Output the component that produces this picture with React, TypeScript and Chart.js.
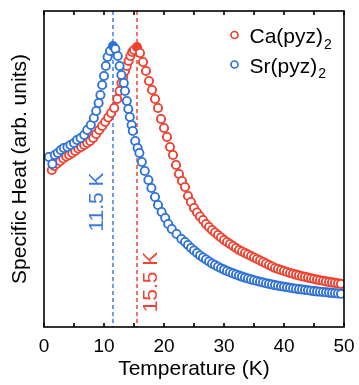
import { useEffect, useRef } from 'react';
import { Chart, registerables } from 'chart.js';
Chart.register(...registerables);

// Temperature (K) and specific heat (arb. units)
const srT = [0.8, 1.4, 1.8, 2.3, 2.8, 3.3, 3.9, 4.4, 5.0, 5.5, 6.1, 6.7, 7.2, 7.8, 8.3, 8.7, 9.1, 9.4, 9.7, 10.0, 10.3, 10.6, 11.0, 11.5,
  11.9, 12.3, 12.6, 12.9, 13.3, 13.5, 13.8, 14.05, 14.3, 14.6, 14.8, 15.2, 15.6, 15.9, 16.3, 16.8, 17.4, 17.9, 18.5, 19.0, 19.6, 20.2, 20.7, 21.3, 22.1, 22.9,
  23.5, 24, 24.5, 25, 25.5, 26, 26.5, 27, 27.5, 28, 28.5, 29, 29.5, 30, 30.5, 31, 31.5, 32, 32.5, 33, 33.5, 34, 34.5, 35, 35.5, 36, 36.5, 37, 37.5, 38, 38.5, 39, 39.5,
  40, 40.5, 41, 41.5, 42, 42.5, 43, 43.5, 44, 44.5, 45, 45.5, 46, 46.5, 47, 47.5, 48, 48.5, 49, 49.5];
const srC = [170, 163, 172, 174, 177, 179, 180, 182, 184, 187, 189, 192, 197, 202, 209, 216, 224, 232, 242, 251, 261, 270, 276, 281,
  278, 271, 261, 252, 244, 236, 226, 218, 210, 202, 196, 186, 179, 174, 165, 156, 147, 139, 130, 122, 115, 109, 103, 98, 93, 88,
  85, 82, 79, 76.5, 74, 71.5, 69.5, 67.5, 65.5, 63.5, 62, 60.3, 58.8, 57.4, 56, 54.8, 53.6, 52.5, 51.4, 50.4, 49.4, 48.5, 47.6, 46.8, 46, 45.2, 44.5, 43.8, 43.1, 42.5, 41.9, 41.3, 40.7,
  40.2, 39.7, 39.2, 38.7, 38.3, 37.9, 37.5, 37.1, 36.7, 36.3, 35.9, 35.6, 35.3, 35, 34.7, 34.4, 34.1, 33.8, 33.5, 33.2];

const caT = [1.3, 1.7, 2.2, 2.7, 3.2, 3.7, 4.2, 4.7, 5.2, 5.7, 6.2, 6.7, 7.2, 7.7, 8.2, 8.7, 9.2, 9.7, 10.2, 10.7, 11.2, 11.7, 12.2, 12.6, 12.9, 13.2, 13.5, 13.8, 14.1, 14.4, 14.7, 15.0, 15.5,
  16.0, 16.5, 17.0, 17.5, 18.0, 18.5, 19.0, 19.5, 20.0, 20.5, 21.0, 21.5, 22.0, 22.5, 23.0, 23.5, 24.0, 24.5, 25.0, 25.5, 26.0, 26.5, 27.0, 27.5, 28.0, 28.5, 29.0, 29.5, 30.0,
  30.5, 31, 31.5, 32, 32.5, 33, 33.5, 34, 34.5, 35, 35.5, 36, 36.5, 37, 37.5, 38, 38.5, 39, 39.5, 40, 40.5, 41, 41.5, 42, 42.5, 43, 43.5, 44, 44.5, 45, 45.5, 46, 46.5, 47, 47.5, 48, 48.5, 49, 49.5];
const caC = [157, 161, 163.5, 166, 168.5, 170.5, 172, 174, 176, 178.5, 180, 182, 184, 186, 189, 193, 197, 201, 205, 209.5, 214, 219, 228, 236, 244, 250, 256, 261, 266, 271, 275, 277, 280,
  274, 265, 256, 246, 237, 228, 219, 208, 199, 190, 180, 172, 162, 153, 146, 140, 131, 125, 119, 114.5, 110.5, 107, 103, 100, 97, 94.5, 92, 89.5, 87,
  85, 83, 81, 79, 77, 75.5, 74, 72.5, 71, 69.5, 68, 66.5, 65, 63.5, 62, 60.5, 59, 58, 57, 56, 55, 54, 53.2, 52.4, 51.6, 50.8, 50.1, 49.4, 48.7, 48, 47.4, 46.8, 46.2, 45.6, 45.1, 44.6, 44.1, 43.6, 43.1];

const srPeak = 11.5;
const caPeak = 15.5;
const xTickLabels = [0, 10, 20, 30, 40, 50];
const minorTicks = [0, 5, 10, 15, 20, 25, 30, 35, 40, 45, 50];

const RED = '#F0402F';
const BLUE = '#2F72D8';
const FONT = "'Liberation Sans', Arial, sans-serif";

export default function App() {
  const ref = useRef<HTMLCanvasElement>(null);
  useEffect(() => {
    const canvas = ref.current!;
    const mk = (T: number[], C: number[]) => T.map((t, i) => ({ x: t, y: C[i] }));

    const annot = {
      id: 'annot',
      beforeDatasetsDraw(chart: any) {
        const { ctx, chartArea: a, scales } = chart;
        const xs = scales.x;
        const lines = [
          { t: srPeak, c: '#4A86E2', tc: '#3A7BDC', text: '11.5 K', cy: 202, dx: -15.5 },
          { t: caPeak, c: '#F0503F', tc: '#F04535', text: '15.5 K', cy: 282, dx: 14.5 },
        ];
        ctx.save();
        for (const l of lines) {
          const px = xs.getPixelForValue(l.t);
          ctx.strokeStyle = l.c;
          ctx.lineWidth = 1.6;
          ctx.setLineDash([4, 3]);
          ctx.beginPath();
          ctx.moveTo(px, a.top);
          ctx.lineTo(px, a.bottom);
          ctx.stroke();
          ctx.setLineDash([]);
          ctx.save();
          ctx.translate(px + l.dx, l.cy);
          ctx.rotate(-Math.PI / 2);
          ctx.fillStyle = l.tc;
          ctx.font = `21px ${FONT}`;
          ctx.textAlign = 'center';
          ctx.textBaseline = 'middle';
          ctx.fillText(l.text, 0, 0);
          ctx.restore();
        }
        ctx.restore();
      },
      afterDatasetsDraw(chart: any) {
        const { ctx, chartArea: a, scales } = chart;
        const xs = scales.x;
        ctx.save();
        ctx.strokeStyle = '#000';
        ctx.lineWidth = 1.6;
        ctx.strokeRect(a.left, a.top, a.right - a.left, a.bottom - a.top);
        ctx.beginPath();
        for (const t of minorTicks) {
          const px = xs.getPixelForValue(t);
          ctx.moveTo(px, a.bottom);
          ctx.lineTo(px, a.bottom - 4);
          ctx.moveTo(px, a.top);
          ctx.lineTo(px, a.top + 4);
        }
        ctx.stroke();
        // legend
        const items = [
          { label: 'Ca(pyz)', color: RED, y: 35 },
          { label: 'Sr(pyz)', color: BLUE, y: 64.5 },
        ];
        for (const it of items) {
          ctx.beginPath();
          ctx.arc(234.5, it.y, 3.5, 0, Math.PI * 2);
          ctx.fillStyle = '#fff';
          ctx.fill();
          ctx.strokeStyle = it.color;
          ctx.lineWidth = 1.7;
          ctx.stroke();
          ctx.fillStyle = '#000';
          ctx.font = `21px ${FONT}`;
          ctx.textAlign = 'left';
          ctx.textBaseline = 'alphabetic';
          ctx.fillText(it.label, 249.5, it.y + 8.3);
          const w = ctx.measureText(it.label).width;
          ctx.font = `14px ${FONT}`;
          ctx.fillText('2', 249.5 + w + 1, it.y + 13.5);
        }
        ctx.restore();
      },
    };

    const pointBg = (peak: number, color: string) => (c: any) =>
      c.raw && c.raw.x === peak ? color : '#ffffff';

    const chart = new Chart(canvas, {
      type: 'scatter',
      data: {
        datasets: [
          {
            label: 'Sr(pyz)2',
            data: mk(srT, srC),
            borderColor: BLUE,
            pointBorderColor: BLUE,
            pointBackgroundColor: pointBg(srPeak, BLUE),
            pointRadius: 4.1,
            pointBorderWidth: 1.9,
            showLine: false,
          },
          {
            label: 'Ca(pyz)2',
            data: mk(caT, caC),
            borderColor: RED,
            pointBorderColor: RED,
            pointBackgroundColor: pointBg(caPeak, RED),
            pointRadius: 4.1,
            pointBorderWidth: 1.9,
            showLine: false,
          },
        ],
      },
      options: {
        responsive: false,
        animation: false,
        devicePixelRatio: 1,
        layout: { padding: { top: 11, right: 15, left: 0, bottom: 0 } },
        plugins: { legend: { display: false }, tooltip: { enabled: false } },
        scales: {
          x: {
            type: 'linear',
            min: 0,
            max: 50,
            afterBuildTicks: (s: any) => {
              s.ticks = xTickLabels.map((v) => ({ value: v }));
            },
            afterFit: (s: any) => {
              s.height = 58;
            },
            ticks: {
              color: '#000',
              font: { family: FONT, size: 19 },
              padding: 0,
              maxRotation: 0,
            },
            grid: { display: false },
            border: { display: false },
            title: {
              display: true,
              text: 'Temperature (K)',
              color: '#000',
              font: { family: FONT, size: 21 },
              padding: { top: 0, bottom: 3 },
            },
          },
          y: {
            type: 'linear',
            min: 0,
            max: 316,
            afterFit: (s: any) => {
              s.width = 44;
            },
            ticks: { display: false },
            grid: { display: false },
            border: { display: false },
            title: {
              display: true,
              text: 'Specific Heat (arb. units)',
              color: '#000',
              font: { family: FONT, size: 21 },
              padding: { top: 8, bottom: 0 },
            },
          },
        },
      },
      plugins: [annot],
    } as any);
    return () => chart.destroy();
  }, []);

  return (
    <div style={{ position: 'fixed', left: 0, top: 0, width: 359, height: 385, background: '#fff' }}>
      <canvas ref={ref} width={359} height={385} />
    </div>
  );
}
